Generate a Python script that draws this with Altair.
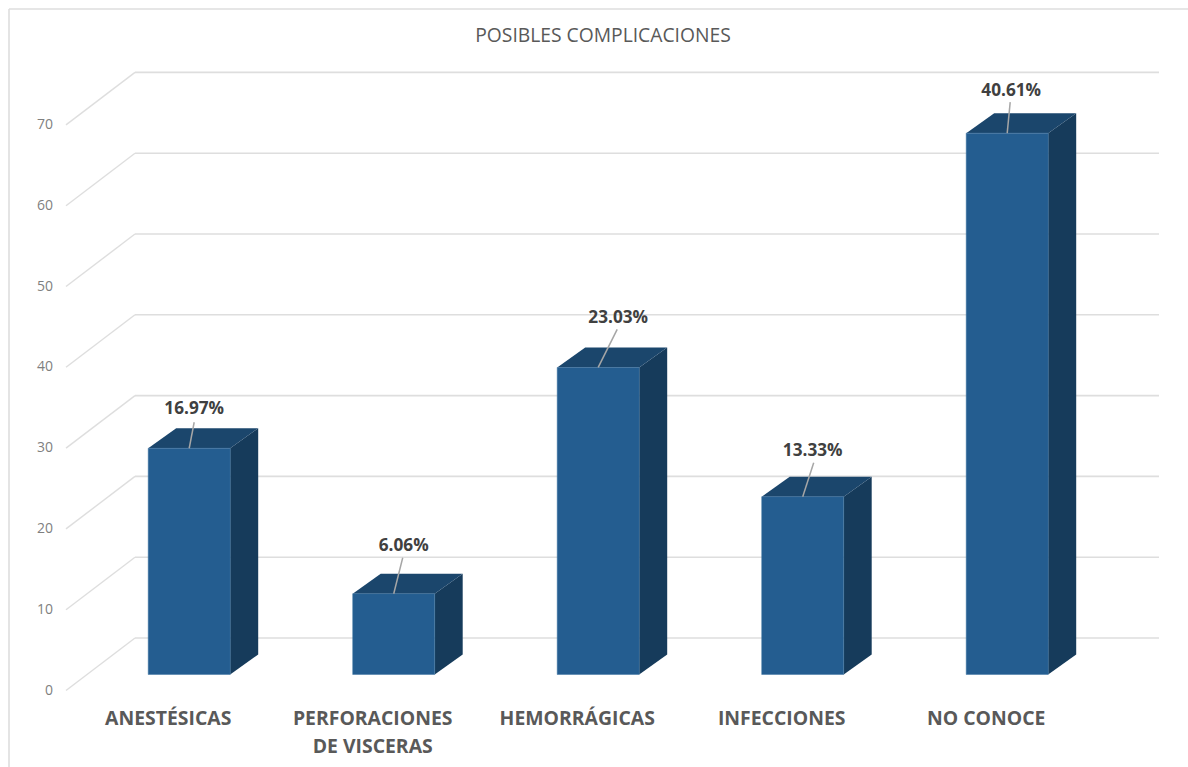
import altair as alt
import pandas as pd

# Survey results: respondents per complication and their share of the total
categories = ["ANESTÉSICAS", "PERFORACIONES\nDE VISCERAS", "HEMORRÁGICAS", "INFECCIONES", "NO CONOCE"]
counts = [28, 10, 38, 22, 67]
shares = [16.97, 6.06, 23.03, 13.33, 40.61]
ticks = [0, 10, 20, 30, 40, 50, 60, 70]
chart_title = "POSIBLES COMPLICACIONES"

# Canvas and scale geometry (pixels per data unit)
W, H = 1188, 767
PX_PER_CAT = 204.5
PX_PER_COUNT = 8.08
ORIGIN_X, ORIGIN_Y = 189.2, 674.5

def ux(px):
    return px / PX_PER_CAT

def uy(px):
    return px / PX_PER_COUNT

x_scale = alt.Scale(domain=[-ORIGIN_X / PX_PER_CAT, (W - ORIGIN_X) / PX_PER_CAT], nice=False, zero=False)
y_scale = alt.Scale(domain=[-(H - ORIGIN_Y) / PX_PER_COUNT, ORIGIN_Y / PX_PER_COUNT], nice=False, zero=False)

X = alt.X("x:Q", scale=x_scale, axis=None)
Y = alt.Y("y:Q", scale=y_scale, axis=None)
X2 = alt.X2("x2:Q")
Y2 = alt.Y2("y2:Q")

# Pseudo-3D box proportions
half_w = ux(41)
depth_x = ux(28)
depth_y = uy(20)

# Wall and floor depth of the gridlines
wall_lift = uy(36.5)
front_drop = uy(16)
wall_left = ux(135 - ORIGIN_X)
wall_right = ux(1159 - ORIGIN_X)
front_left = ux(66 - ORIGIN_X)

GRID = "#dedede"
wall = pd.DataFrame({
    "x": [wall_left] * len(ticks),
    "x2": [wall_right] * len(ticks),
    "y": [t + wall_lift for t in ticks],
})
floor_rows = []
for t in ticks:
    floor_rows.append({"tick": t, "x": front_left, "y": t - front_drop})
    floor_rows.append({"tick": t, "x": wall_left, "y": t + wall_lift})
floor = pd.DataFrame(floor_rows)

wall_layer = alt.Chart(wall).mark_rule(color=GRID, strokeWidth=1.6).encode(x=X, x2=X2, y=Y)
floor_layer = alt.Chart(floor).mark_line(color=GRID, strokeWidth=1.4).encode(x=X, y=Y, detail="tick:N")

tick_df = pd.DataFrame({
    "x": [ux(53 - ORIGIN_X)] * len(ticks),
    "y": [t - front_drop for t in ticks],
    "label": [str(t) for t in ticks],
})
tick_layer = alt.Chart(tick_df).mark_text(
    align="right", baseline="middle", font="Open Sans", fontSize=14, color="#7f7f7f"
).encode(x=X, y=Y, text="label:N")

# Box faces
front = pd.DataFrame({
    "x": [i - half_w for i in range(5)],
    "x2": [i + half_w for i in range(5)],
    "y": [0] * 5,
    "y2": counts,
})
side_rows, top_rows = [], []
for i, v in enumerate(counts):
    r = i + half_w
    l = i - half_w
    side_rows.append({"bar": i, "x": r, "y": 0, "y2": v})
    side_rows.append({"bar": i, "x": r + depth_x, "y": depth_y, "y2": v + depth_y})
    top_rows.append({"bar": i, "x": l, "y": v, "y2": v})
    top_rows.append({"bar": i, "x": l + depth_x, "y": v, "y2": v + depth_y})
    top_rows.append({"bar": i, "x": r, "y": v, "y2": v + depth_y})
    top_rows.append({"bar": i, "x": r + depth_x, "y": v + depth_y, "y2": v + depth_y})
side = pd.DataFrame(side_rows)
top = pd.DataFrame(top_rows)

front_layer = alt.Chart(front).mark_rect(color="#245d90", stroke="#3f74a3", strokeWidth=0.5).encode(x=X, x2=X2, y=Y, y2=Y2)
side_layer = alt.Chart(side).mark_area(color="#163b5b", orient="vertical", interpolate="linear").encode(x=X, y=Y, y2=Y2, detail="bar:N")
top_layer = alt.Chart(top).mark_area(color="#1b466c", orient="vertical", interpolate="linear").encode(x=X, y=Y, y2=Y2, detail="bar:N")

# Leader lines and percentage labels, placed relative to each bar's top edge
label_dx = [5, 10, 20, 10, 4]
leader_dx = [5, 9, 19, 11, 3]
leader_rise = [26, 36, 38, 34, 31]
label_rise = [39, 48, 49, 46, 42]

leaders = pd.DataFrame({
    "x": list(range(5)),
    "x2": [i + ux(d) for i, d in enumerate(leader_dx)],
    "y": counts,
    "y2": [v + uy(h) for v, h in zip(counts, leader_rise)],
})
leader_layer = alt.Chart(leaders).mark_rule(color="#a6a6a6", strokeWidth=1.5).encode(x=X, x2=X2, y=Y, y2=Y2)

labels = pd.DataFrame({
    "x": [i + ux(d) for i, d in enumerate(label_dx)],
    "y": [v + uy(h) for v, h in zip(counts, label_rise)],
    "label": [f"{s:.2f}%" for s in shares],
})
label_layer = alt.Chart(labels).mark_text(
    align="center", baseline="middle", font="Open Sans", fontWeight="bold", fontSize=17.2, color="#404040"
).encode(x=X, y=Y, text="label:N")

# Category captions along the floor
cat_df = pd.DataFrame({
    "x": [i + ux(-21) for i in range(5)],
    "y": [uy(ORIGIN_Y - 710)] * 5,
    "label": categories,
})
cat_layer = alt.Chart(cat_df).mark_text(
    align="center", baseline="top", font="Open Sans", fontWeight="bold", fontSize=19.4,
    color="#595959", lineBreak="\n", lineHeight=28
).encode(x=X, y=Y, text="label:N")

title_df = pd.DataFrame({"x": [ux(603 - ORIGIN_X)], "y": [uy(ORIGIN_Y - 36)], "label": [chart_title]})
title_layer = alt.Chart(title_df).mark_text(
    align="center", baseline="middle", font="Open Sans", fontSize=19.3, color="#595959"
).encode(x=X, y=Y, text="label:N")

# Frame: only the top and left edges fall inside the canvas
frame_top = alt.Chart(pd.DataFrame({"k": [0]})).mark_rule(color=GRID, strokeWidth=1.6).encode(
    x=alt.value(9), x2=alt.value(W), y=alt.value(9)
)
frame_left = alt.Chart(pd.DataFrame({"k": [0]})).mark_rule(color=GRID, strokeWidth=1.6).encode(
    x=alt.value(9), y=alt.value(9), y2=alt.value(H)
)

chart = alt.layer(
    frame_top, frame_left, wall_layer, floor_layer, tick_layer,
    side_layer, top_layer, front_layer, leader_layer, label_layer, cat_layer, title_layer,
).properties(
    width=W, height=H, padding=0, autosize=alt.AutoSizeParams(type="none"), background="white"
).configure_view(stroke=None)

chart.save("out.html", embed_options={"renderer": "svg", "actions": False})
